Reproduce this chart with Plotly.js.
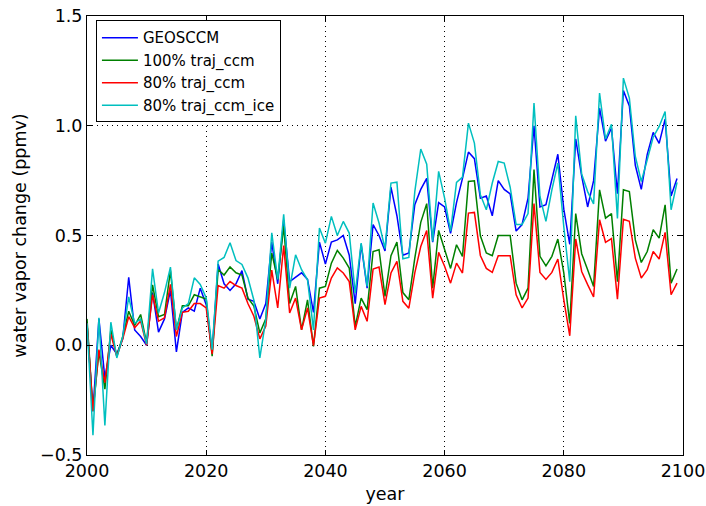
<!DOCTYPE html>
<html>
<head>
<meta charset="utf-8">
<script src="https://cdn.plot.ly/plotly-3.0.1.min.js"></script>
<style>
  html, body { margin: 0; padding: 0; background: #fff; }
  #chart { width: 706px; height: 506px; }
</style>
</head>
<body>
<div id="chart"></div>
<script>
// Annual stratospheric water vapour change, 2000-2099
const years = Array.from({length: 100}, (_, i) => 2000 + i);

const seriesNames = ["GEOSCCM", "100% traj_ccm", "80% traj_ccm", "80% traj_ccm_ice"];
const seriesColors = ["#0000ff", "#008000", "#ff0000", "#00bfbf"];

const geosccm = [
  0.10, -0.30, 0.12, -0.15, 0.00, -0.04, 0.03, 0.31, 0.07, 0.04,
  0.00, 0.24, 0.06, 0.12, 0.25, -0.03, 0.15, 0.17, 0.155, 0.26,
  0.185, -0.03, 0.37, 0.28, 0.25, 0.28, 0.34, 0.21, 0.20, 0.12,
  0.19, 0.47, 0.28, 0.57, 0.29, 0.31, 0.33, 0.30, 0.15, 0.47,
  0.37, 0.47, 0.48, 0.50, 0.41, 0.19, 0.46, 0.26, 0.55, 0.50,
  0.43, 0.72, 0.59, 0.41, 0.42, 0.64, 0.71, 0.76, 0.47, 0.65,
  0.63, 0.51, 0.65, 0.76, 0.88, 0.85, 0.67, 0.68, 0.59, 0.75,
  0.71, 0.69, 0.52, 0.55, 0.67, 1.00, 0.63, 0.64, 0.75, 0.87,
  0.62, 0.46, 0.94, 0.77, 0.63, 0.75, 1.08, 0.93, 0.99, 0.69,
  1.16, 1.09, 0.82, 0.71, 0.87, 0.97, 0.92, 1.03, 0.68, 0.76
];

const traj100 = [
  0.12, -0.30, -0.03, -0.20, 0.07, -0.05, 0.04, 0.155, 0.09, 0.14,
  0.01, 0.275, 0.13, 0.14, 0.34, 0.07, 0.18, 0.18, 0.23, 0.22,
  0.21, -0.05, 0.345, 0.32, 0.357, 0.33, 0.32, 0.216, 0.178, 0.056,
  0.12, 0.42, 0.30, 0.543, 0.19, 0.268, 0.07, 0.207, -0.005, 0.26,
  0.268, 0.374, 0.432, 0.397, 0.352, 0.086, 0.215, 0.162, 0.427, 0.435,
  0.223, 0.408, 0.47, 0.24, 0.207, 0.397, 0.56, 0.645, 0.26, 0.523,
  0.435, 0.35, 0.458, 0.405, 0.746, 0.749, 0.499, 0.42, 0.408, 0.50,
  0.50, 0.50, 0.283, 0.207, 0.26, 0.80, 0.405, 0.362, 0.405, 0.484,
  0.33, 0.10, 0.60, 0.417, 0.344, 0.268, 0.708, 0.579, 0.60, 0.29,
  0.708, 0.70, 0.48, 0.377, 0.427, 0.526, 0.488, 0.64, 0.283, 0.347
];

const traj80 = [
  0.10, -0.30, -0.02, -0.17, 0.05, -0.05, 0.03, 0.13, 0.08, 0.11,
  0.00, 0.23, 0.11, 0.125, 0.277, 0.04, 0.15, 0.155, 0.19, 0.19,
  0.17, -0.04, 0.272, 0.26, 0.29, 0.272, 0.26, 0.19, 0.132, 0.029,
  0.087, 0.342, 0.17, 0.454, 0.147, 0.215, 0.07, 0.17, -0.002, 0.215,
  0.223, 0.306, 0.352, 0.329, 0.29, 0.07, 0.177, 0.109, 0.347, 0.356,
  0.185, 0.329, 0.382, 0.20, 0.169, 0.33, 0.45, 0.523, 0.215, 0.423,
  0.36, 0.283, 0.374, 0.329, 0.602, 0.605, 0.409, 0.35, 0.332, 0.408,
  0.408, 0.408, 0.23, 0.17, 0.215, 0.645, 0.332, 0.30, 0.332, 0.393,
  0.207, 0.043, 0.484, 0.336, 0.276, 0.22, 0.572, 0.469, 0.486, 0.21,
  0.574, 0.565, 0.397, 0.306, 0.344, 0.427, 0.393, 0.514, 0.23, 0.283
];

const traj80ice = [
  0.10, -0.41, 0.125, -0.365, 0.105, -0.058, 0.04, 0.22, 0.10, 0.12,
  0.005, 0.348, 0.147, 0.24, 0.356, 0.07, 0.17, 0.19, 0.307, 0.277,
  0.216, -0.02, 0.383, 0.40, 0.467, 0.386, 0.368, 0.307, 0.205, -0.058,
  0.117, 0.512, 0.30, 0.596, 0.26, 0.412, 0.344, 0.298, 0.07, 0.534,
  0.465, 0.587, 0.50, 0.564, 0.511, 0.238, 0.465, 0.268, 0.648, 0.557,
  0.44, 0.739, 0.743, 0.394, 0.40, 0.70, 0.894, 0.825, 0.473, 0.792,
  0.67, 0.52, 0.742, 0.766, 1.012, 0.921, 0.686, 0.617, 0.739, 0.837,
  0.83, 0.72, 0.55, 0.55, 0.60, 1.103, 0.678, 0.564, 0.708, 0.83,
  0.54, 0.29, 1.045, 0.78, 0.70, 0.644, 1.149, 0.94, 1.007, 0.578,
  1.217, 1.126, 0.86, 0.746, 0.845, 0.948, 0.997, 1.065, 0.617, 0.742
];

const xTicks = [2000, 2020, 2040, 2060, 2080, 2100];
const yTicks = [-0.5, 0.0, 0.5, 1.0, 1.5];

const allSeries = [geosccm, traj100, traj80, traj80ice];

// one legend group per series so the legend rows can be spaced out
const traces = allSeries.map((vals, i) => ({
  type: "scatter",
  mode: "lines",
  x: years,
  y: vals,
  name: seriesNames[i],
  legendgroup: "g" + i,
  line: {color: seriesColors[i], width: 1.5}
}));

const FONT = "DejaVu Sans, sans-serif";
const AXIS_FONT = {family: FONT, size: 17.5, color: "#000"};

const axisCommon = {
  showline: true,
  linecolor: "#000",
  linewidth: 1,
  mirror: "ticks",
  ticks: "inside",
  ticklen: 5,
  tickwidth: 1,
  tickcolor: "#000",
  showgrid: true,
  gridcolor: "#000",
  gridwidth: 1,
  griddash: "1px,4px",
  zeroline: false,
  tickfont: AXIS_FONT
};

const layout = {
  width: 706,
  height: 506,
  margin: {l: 87, r: 23, t: 16, b: 51},
  paper_bgcolor: "#fff",
  plot_bgcolor: "#fff",
  font: {family: FONT, size: 15, color: "#000"},
  showlegend: true,
  legend: {
    x: 0.015, y: 0.99,
    xanchor: "left", yanchor: "top",
    bgcolor: "#fff",
    bordercolor: "#000",
    borderwidth: 1,
    font: {family: FONT, size: 15, color: "#000"},
    traceorder: "grouped",
    tracegroupgap: 0,
    itemwidth: 36
  },
  xaxis: Object.assign({}, axisCommon, {
    range: [2000, 2100],
    tickmode: "array",
    tickvals: xTicks,
    ticktext: xTicks.map(String),
    title: {text: "year", font: AXIS_FONT, standoff: 7}
  }),
  yaxis: Object.assign({}, axisCommon, {
    range: [-0.5, 1.5],
    tickmode: "array",
    tickvals: yTicks,
    ticktext: yTicks.map(v => (v < 0 ? "\u2212" : "") + Math.abs(v).toFixed(1)),
    title: {text: "water vapor change (ppmv)", font: AXIS_FONT, standoff: 8}
  })
};

Plotly.newPlot("chart", traces, layout, {displayModeBar: false, staticPlot: true});
</script>
</body>
</html>
